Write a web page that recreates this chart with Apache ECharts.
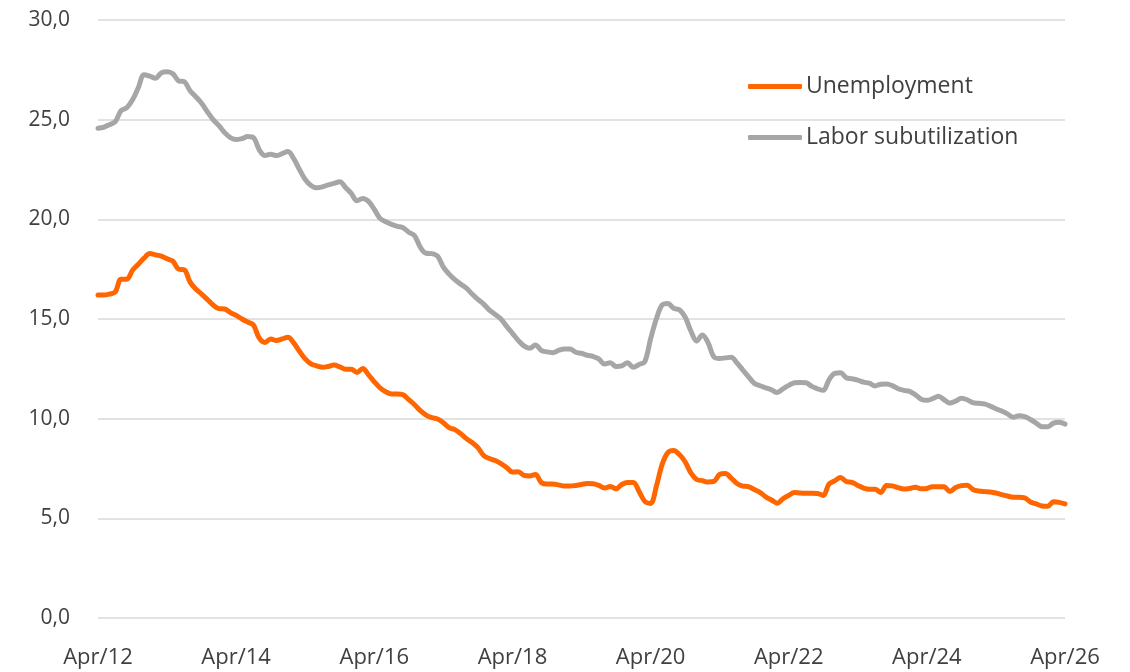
<!DOCTYPE html>
<html>
<head>
<meta charset="utf-8">
<title>Unemployment vs labor subutilization</title>
<script src="https://cdn.jsdelivr.net/npm/echarts@6/dist/echarts.min.js"></script>
<style>
  html, body { margin: 0; padding: 0; background: #fff; }
  #chart { width: 1130px; height: 672px; }
</style>
</head>
<body>
<div id="chart"></div>
<script>
// months Apr/12 .. Apr/26
const monthNames = ["Jan", "Feb", "Mar", "Apr", "May", "Jun", "Jul", "Aug", "Sep", "Oct", "Nov", "Dec"];
const months = [];
for (let k = 0; k <= 168; k++) {
  const m = (3 + k) % 12;
  const y = 12 + Math.floor((3 + k) / 12);
  months.push(monthNames[m] + "/" + y);
}

const yTicks = [0, 5, 10, 15, 20, 25, 30];

const unemployment = [
  16.2, 16.2, 16.25, 16.35, 17.0, 17.0, 17.45, 17.75, 18.05, 18.28, 18.22, 18.15,
  18.02, 17.9, 17.5, 17.46, 16.85, 16.5, 16.25, 15.98, 15.7, 15.52, 15.5, 15.32,
  15.18, 15.0, 14.85, 14.7, 14.05, 13.82, 14.0, 13.92, 14.0, 14.08, 13.8, 13.38,
  13.0, 12.75, 12.65, 12.58, 12.62, 12.69, 12.6, 12.48, 12.48, 12.32, 12.52, 12.2,
  11.85, 11.55, 11.35, 11.24, 11.24, 11.2, 10.95, 10.7, 10.4, 10.18, 10.05, 9.98,
  9.8, 9.55, 9.45, 9.25, 9.0, 8.8, 8.55, 8.15, 8.0, 7.9, 7.75, 7.55,
  7.32, 7.34, 7.15, 7.12, 7.2, 6.8, 6.72, 6.72, 6.68, 6.62, 6.62, 6.65,
  6.7, 6.75, 6.74, 6.65, 6.52, 6.6, 6.48, 6.7, 6.8, 6.8, 6.35, 5.85,
  5.75, 6.6, 7.7, 8.3, 8.4, 8.2, 7.84, 7.28, 6.95, 6.89, 6.82, 6.85,
  7.2, 7.25, 7.02, 6.75, 6.62, 6.59, 6.45, 6.3, 6.08, 5.92, 5.76, 5.98,
  6.15, 6.3, 6.27, 6.26, 6.26, 6.25, 6.15, 6.72, 6.88, 7.05, 6.85, 6.8,
  6.65, 6.52, 6.46, 6.46, 6.3, 6.65, 6.63, 6.54, 6.47, 6.5, 6.56, 6.48,
  6.5, 6.59, 6.59, 6.58, 6.34, 6.55, 6.64, 6.66, 6.45, 6.37, 6.34, 6.32,
  6.27, 6.19, 6.12, 6.06, 6.06, 6.03, 5.82, 5.72, 5.62, 5.6, 5.83, 5.8,
  5.72
];

const laborSubutilization = [
  24.57, 24.62, 24.75, 24.9, 25.45, 25.6, 26.0, 26.6, 27.25, 27.18, 27.08, 27.35,
  27.4, 27.3, 26.95, 26.9, 26.45, 26.15, 25.82, 25.4, 25.0, 24.7, 24.35, 24.1,
  24.0, 24.05, 24.15, 24.1, 23.5, 23.2, 23.27, 23.2, 23.3, 23.4, 23.05, 22.5,
  22.0, 21.7, 21.58, 21.63, 21.73, 21.8, 21.89, 21.6, 21.3, 20.93, 21.05, 20.9,
  20.5, 20.05, 19.88, 19.75, 19.65, 19.58, 19.35, 19.18, 18.6, 18.3, 18.28, 18.15,
  17.6, 17.25, 16.97, 16.75, 16.55, 16.25, 15.98, 15.75, 15.45, 15.23, 15.0, 14.63,
  14.28, 13.93, 13.65, 13.53, 13.7, 13.43, 13.35, 13.31, 13.42, 13.5, 13.5, 13.33,
  13.28, 13.18, 13.12, 13.0, 12.74, 12.8, 12.62, 12.65, 12.8, 12.58, 12.72, 12.86,
  14.0, 15.0, 15.7, 15.78, 15.54, 15.46, 15.1, 14.4, 13.9, 14.2, 13.8, 13.1,
  13.02, 13.05, 13.08, 12.8, 12.45, 12.11, 11.78, 11.65, 11.55, 11.45, 11.31, 11.5,
  11.67, 11.8, 11.81, 11.8, 11.62, 11.5, 11.42, 11.95, 12.27, 12.3, 12.05, 12.0,
  11.93, 11.83, 11.78, 11.64, 11.73, 11.74, 11.66, 11.5, 11.42, 11.37, 11.2, 10.98,
  10.92, 11.0, 11.12, 10.95, 10.78, 10.88, 11.02, 10.95, 10.8, 10.77, 10.74, 10.63,
  10.5, 10.38, 10.24, 10.07, 10.15, 10.1, 9.96, 9.78, 9.6, 9.6, 9.78, 9.82,
  9.73
];

const orange = "#ff6600";
const gray = "#a6a6a6";
const textColor = "#404040";
const fontFamily = "'Open Sans', 'Noto Sans', sans-serif";

const chart = echarts.init(document.getElementById("chart"), null, { renderer: "canvas" });

chart.setOption({
  animation: false,
  backgroundColor: "#ffffff",
  textStyle: { fontFamily: fontFamily },
  grid: {
    left: 98,
    right: 65,
    top: 20,
    bottom: 54,
    containLabel: false
  },
  legend: {
    orient: "vertical",
    left: 743,
    top: 68,
    itemWidth: 54,
    itemHeight: 5,
    itemGap: 24,
    icon: "roundRect",
    textStyle: {
      fontFamily: fontFamily,
      fontSize: 23,
      color: textColor,
      lineHeight: 27,
      padding: [0, 0, 0, -1]
    },
    data: ["Unemployment", "Labor subutilization"]
  },
  xAxis: {
    type: "category",
    data: months,
    boundaryGap: false,
    axisLine: { show: false },
    axisTick: { show: false },
    splitLine: { show: false },
    axisLabel: {
      interval: 23,
      margin: 29,
      fontSize: 22,
      color: textColor,
      fontFamily: fontFamily,
      showMaxLabel: true
    }
  },
  yAxis: {
    type: "value",
    min: yTicks[0],
    max: yTicks[yTicks.length - 1],
    interval: 5,
    axisLine: { show: false },
    axisTick: { show: false },
    splitLine: { lineStyle: { color: "#d9d9d9", width: 1.5 } },
    axisLabel: {
      margin: 28,
      fontSize: 21,
      color: textColor,
      fontFamily: fontFamily,
      formatter: function (v) { return v.toFixed(1).replace(".", ","); }
    }
  },
  series: [
    {
      name: "Unemployment",
      type: "line",
      data: unemployment,
      showSymbol: false,
      symbol: "none",
      smooth: 0.35,
      itemStyle: { color: orange },
      lineStyle: { color: orange, width: 5, cap: "round", join: "round" },
      z: 3
    },
    {
      name: "Labor subutilization",
      type: "line",
      data: laborSubutilization,
      showSymbol: false,
      symbol: "none",
      smooth: 0.35,
      itemStyle: { color: gray },
      lineStyle: { color: gray, width: 5, cap: "round", join: "round" },
      z: 2
    }
  ]
});
</script>
</body>
</html>
